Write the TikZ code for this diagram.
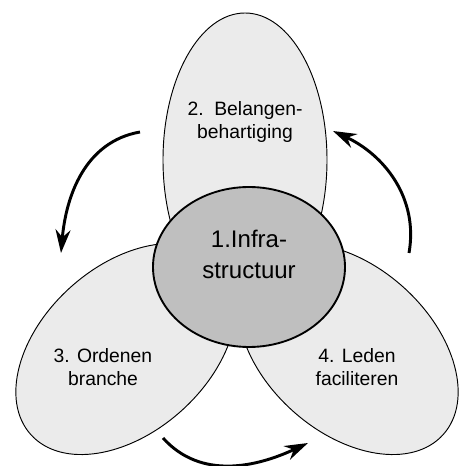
\documentclass[tikz,border=0pt]{standalone}
\usepackage{fontspec}
\setmainfont{Liberation Sans}
\usetikzlibrary{shapes.geometric,arrows.meta}
\definecolor{petalgray}{gray}{0.92}
\definecolor{coregray}{gray}{0.75}

\begin{document}
\begin{tikzpicture}
        [petal/.style={ellipse, inner sep=0pt, draw=black, line width=0.8pt, fill=petalgray,
            minimum width=7.68cm, minimum height=4.98cm},
        core/.style={ellipse, inner sep=0pt, draw=black, line width=1.6pt, fill=coregray,
            minimum width=5.76cm, minimum height=4.8cm},
        txt/.style={align=center, font=\fontsize{16.5}{19.6}\selectfont},
        coretxt/.style={align=center, font=\fontsize{20.5}{26.5}\selectfont},
        flow/.style={line width=2.5pt, -{Stealth[length=7mm, width=4.5mm]}}]
        \useasboundingbox (-7.47,-5.97) rectangle (6.30,8.01);
        \node[petal, rotate=90, minimum width=8.82cm, minimum height=4.92cm] (bel) at (-0.12,3.21) {};
        \node[petal, rotate=42] (ord) at (-3.69,-2.46) {};
        \node[petal, rotate=-42] (led) at (2.97,-2.46) {};
        \node[core] (infra) at (0,0) {};
        \node[coretxt] (tinfra) at (0,0.39) {1.Infra-\\structuur};
        \node[txt] (tbel) at (-0.12,4.35) {2.\ \ Belangen-\\behartiging};
        \node[txt] (tord) at (-4.38,-3.0) {3. Ordenen\\branche};
        \node[txt] (tled) at (3.24,-3.0) {4. Leden\\faciliteren};
        \coordinate (s1) at (-3.27,4.05);
        \coordinate (e1) at (-5.64,0.42);
        \coordinate (s2) at (-2.58,-5.13);
        \coordinate (e2) at (1.77,-5.28);
        \coordinate (s3) at (4.80,0.42);
        \coordinate (e3) at (2.52,4.08);
        \draw[flow] (s1) to[out=190, in=85] (e1);
        \draw[flow] (s2) to[out=-48, in=205] (e2);
        \draw[flow] (s3) to[out=80, in=-25] (e3);
    \end{tikzpicture}
\end{document}
